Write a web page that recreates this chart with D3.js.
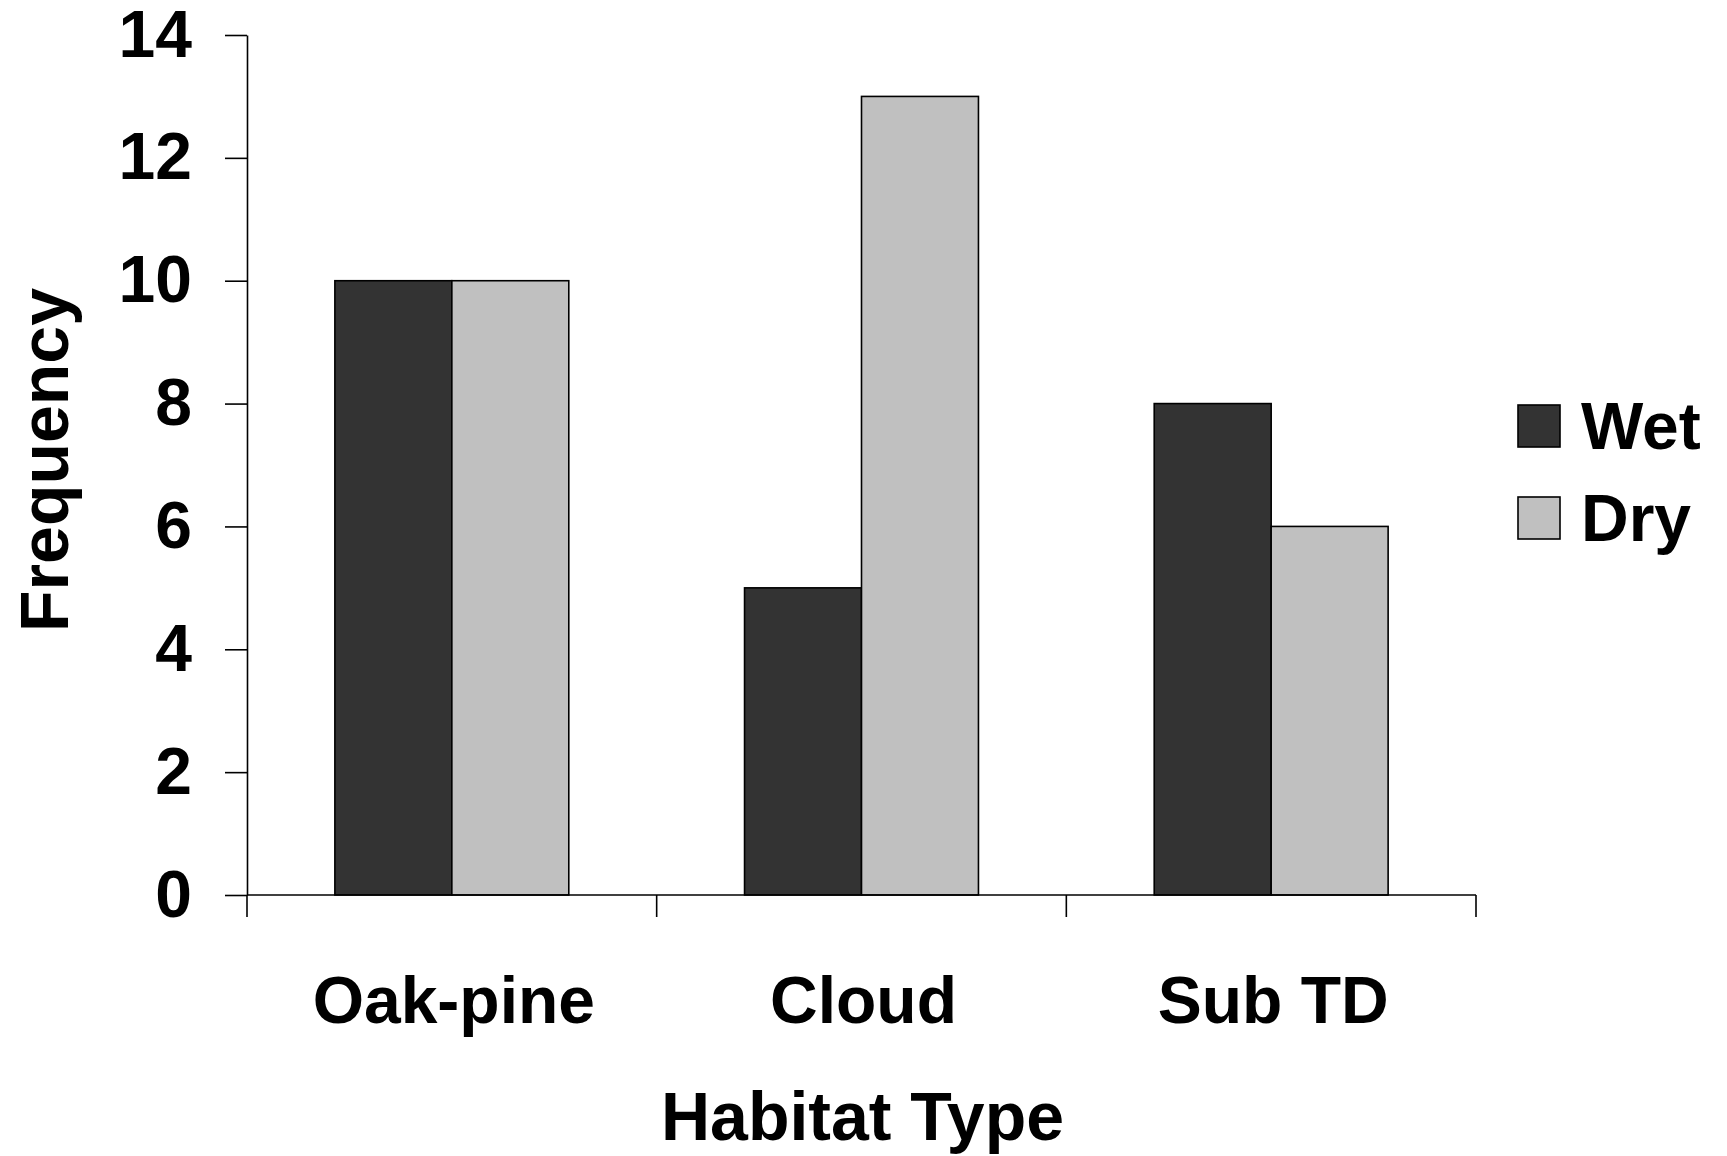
<!DOCTYPE html>
<html>
<head>
<meta charset="utf-8">
<script src="https://cdn.jsdelivr.net/npm/d3@7"></script>
<style>
  body { margin: 0; background: #fff; }
  text { font-family: "Liberation Sans", Arial, sans-serif; font-weight: bold; fill: #000; }
</style>
</head>
<body>
<div id="container"></div>
<script>
const width = 1727,
  height = 1156,
  margin = { top: 35, bottom: 261, left: 247, right: 251 };

/** -------------- DATA -------------- */

const habitats = ["Oak-pine", "Cloud", "Sub TD"];
const seasons = ["Wet", "Dry"];
const wetValues = [10, 5, 8];
const dryValues = [10, 13, 6];
const yTicks = [0, 2, 4, 6, 8, 10, 12, 14];
const colors = ["#333333", "#c0c0c0"];

const rows = habitats.map((h, i) => ({ habitat: h, Wet: wetValues[i], Dry: dryValues[i] }));

/** -------------- SCALES -------------- */

const innerW = width - margin.left - margin.right,
  innerH = height - margin.top - margin.bottom;

const x0 = d3.scaleBand(habitats, [0, innerW])
  .paddingInner(0.429)
  .paddingOuter(0.2145);

const x1 = d3.scaleBand(seasons, [0, x0.bandwidth()]);

const y = d3.scaleLinear([0, 14], [innerH, 0]);

const color = d3.scaleOrdinal(seasons, colors);

/** -------------- APPEND TO DOM -------------- */

const svg = d3.select("#container")
  .append("svg")
  .attr("width", width)
  .attr("height", height);

const g = svg.append("g")
  .attr("transform", `translate(${[margin.left, margin.top]})`);

// bars
g.append("g")
  .selectAll("g")
  .data(rows)
  .join("g")
    .attr("transform", d => `translate(${x0(d.habitat)},0)`)
  .selectAll("rect")
  .data(d => seasons.map(s => ({ key: s, value: d[s] })))
  .join("rect")
    .attr("x", d => x1(d.key))
    .attr("y", d => y(d.value))
    .attr("width", x1.bandwidth())
    .attr("height", d => innerH - y(d.value))
    .attr("fill", d => color(d.key))
    .attr("stroke", "#000")
    .attr("stroke-width", 1.6);

// y axis
const yAxis = g.append("g")
  .call(d3.axisLeft(y).tickValues(yTicks).tickSize(22).tickSizeOuter(0).tickPadding(33));
yAxis.select(".domain").attr("stroke-width", 1.6);
yAxis.selectAll(".tick line").attr("stroke-width", 1.6);
yAxis.selectAll(".tick text")
  .style("font-size", "66px")
  .style("font-family", "'Liberation Sans', Arial, sans-serif")
  .style("font-weight", "bold")
  .attr("fill", "#000");

// x axis with ticks between categories
const xAxis = g.append("g")
  .attr("transform", `translate(0,${innerH})`);
xAxis.append("line")
  .attr("x1", 0).attr("x2", innerW)
  .attr("stroke", "#000").attr("stroke-width", 1.6);
const step = x0.step();
xAxis.selectAll("line.sep")
  .data(d3.range(habitats.length + 1))
  .join("line")
    .attr("class", "sep")
    .attr("x1", i => i * step).attr("x2", i => i * step)
    .attr("y1", 0).attr("y2", 22)
    .attr("stroke", "#000").attr("stroke-width", 1.6);
xAxis.selectAll("text")
  .data(habitats)
  .join("text")
    .attr("x", d => x0(d) + x0.bandwidth() / 2 + 2)
    .attr("y", 128)
    .attr("text-anchor", "middle")
    .style("font-size", "66px")
    .text(d => d);

// axis titles
svg.append("text")
  .attr("x", margin.left + innerW / 2 + 1)
  .attr("y", 1140)
  .attr("text-anchor", "middle")
  .style("font-size", "68px")
  .text("Habitat Type");

svg.append("text")
  .attr("transform", "translate(68,460) rotate(-90)")
  .attr("text-anchor", "middle")
  .style("font-size", "68px")
  .text("Frequency");

// legend
const legend = svg.append("g")
  .attr("transform", "translate(1518,405)");
const li = legend.selectAll("g")
  .data(seasons)
  .join("g")
    .attr("transform", (d, i) => `translate(0,${i * 92})`);
li.append("rect")
  .attr("width", 42).attr("height", 42)
  .attr("fill", d => color(d))
  .attr("stroke", "#000").attr("stroke-width", 1.6);
li.append("text")
  .attr("x", 63)
  .attr("y", 44)
  .style("font-size", "66px")
  .text(d => d);
</script>
</body>
</html>
